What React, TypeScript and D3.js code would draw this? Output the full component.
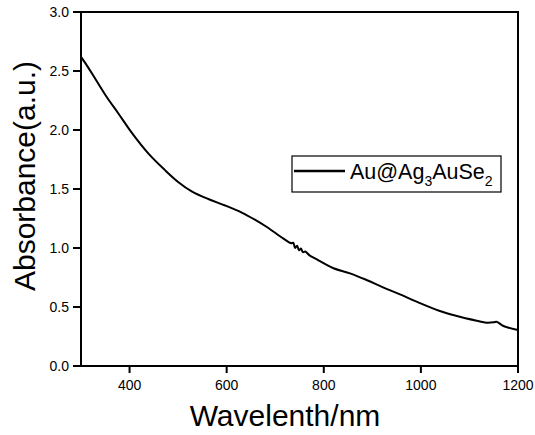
import React from 'react';
import * as d3 from 'd3';

// spectrum
const wavelength = [300, 310, 330, 353, 377, 404, 439, 473, 500, 528, 562, 597, 631, 658, 682, 717, 733, 737, 741, 745, 749, 753, 757, 762, 770, 785, 820, 854, 888, 922, 957, 991, 1039, 1074, 1115, 1135, 1150, 1156, 1170, 1200];
const absorbance = [2.62, 2.56, 2.43, 2.28, 2.14, 1.98, 1.8, 1.66, 1.56, 1.48, 1.415, 1.36, 1.3, 1.24, 1.18, 1.08, 1.04, 1.045, 1.0, 1.02, 0.98, 0.995, 0.965, 0.97, 0.94, 0.905, 0.828, 0.785, 0.729, 0.667, 0.607, 0.545, 0.466, 0.424, 0.384, 0.367, 0.37, 0.375, 0.339, 0.305];

const xTicks = [400, 600, 800, 1000, 1200];
const yTicks = [0.0, 0.5, 1.0, 1.5, 2.0, 2.5, 3.0];

const font = 'Liberation Sans, Arial, sans-serif';

const App = () => {
  const width = 535;
  const height = 435;
  const margin = { left: 81, right: 17, top: 12, bottom: 69 };

  const x = d3.scaleLinear().domain([300, 1200]).range([margin.left, width - margin.right]);
  const y = d3.scaleLinear().domain([0, 3]).range([height - margin.bottom, margin.top]);

  const line = d3
    .line<number>()
    .x((d, i) => x(wavelength[i]))
    .y((d) => y(d))
    .curve(d3.curveCatmullRom.alpha(0.5));

  const x0 = x.range()[0];
  const x1 = x.range()[1];
  const yb = y.range()[0];
  const yt = y.range()[1];

  return (
    <svg width={width} height={height} style={{ position: 'fixed', left: 0, top: 0, background: '#fff' }}>
      <rect x={0} y={0} width={width} height={height} fill="#fff" />
      <path d={line(absorbance) || ''} fill="none" stroke="#000" strokeWidth={2} strokeLinejoin="round" />

      {/* frame */}
      <rect x={x0} y={yt} width={x1 - x0} height={yb - yt} fill="none" stroke="#000" strokeWidth={2} />

      {/* x ticks */}
      {xTicks.map((t) => (
        <g key={t}>
          <line x1={x(t)} x2={x(t)} y1={yb} y2={yb + 7} stroke="#000" strokeWidth={2} />
          <text x={x(t)} y={yb + 24} textAnchor="middle" fontFamily={font} fontSize={14}>
            {t}
          </text>
        </g>
      ))}

      {/* y ticks */}
      {yTicks.map((t) => (
        <g key={t}>
          <line x1={x0 - 8} x2={x0} y1={y(t)} y2={y(t)} stroke="#000" strokeWidth={2} />
          <text x={x0 - 12} y={y(t) + 5} textAnchor="end" fontFamily={font} fontSize={14}>
            {t.toFixed(1)}
          </text>
        </g>
      ))}

      {/* axis titles */}
      <text x={285} y={426} textAnchor="middle" fontFamily={font} fontSize={30}>
        Wavelenth/nm
      </text>
      <text transform="translate(35,176) rotate(-90)" textAnchor="middle" fontFamily={font} fontSize={30}>
        Absorbance(a.u.)
      </text>

      {/* legend */}
      <rect x={292} y={156} width={209} height={36} fill="#fff" stroke="#000" strokeWidth={1.2} />
      <line x1={294} x2={345} y1={171} y2={171} stroke="#000" strokeWidth={2.5} />
      <text x={350} y={179} fontFamily={font} fontSize={21.5}>
        Au@Ag
        <tspan fontSize={14} dy={7}>3</tspan>
        <tspan dy={-7}>AuSe</tspan>
        <tspan fontSize={14} dy={7}>2</tspan>
      </text>
    </svg>
  );
};

export default App;
